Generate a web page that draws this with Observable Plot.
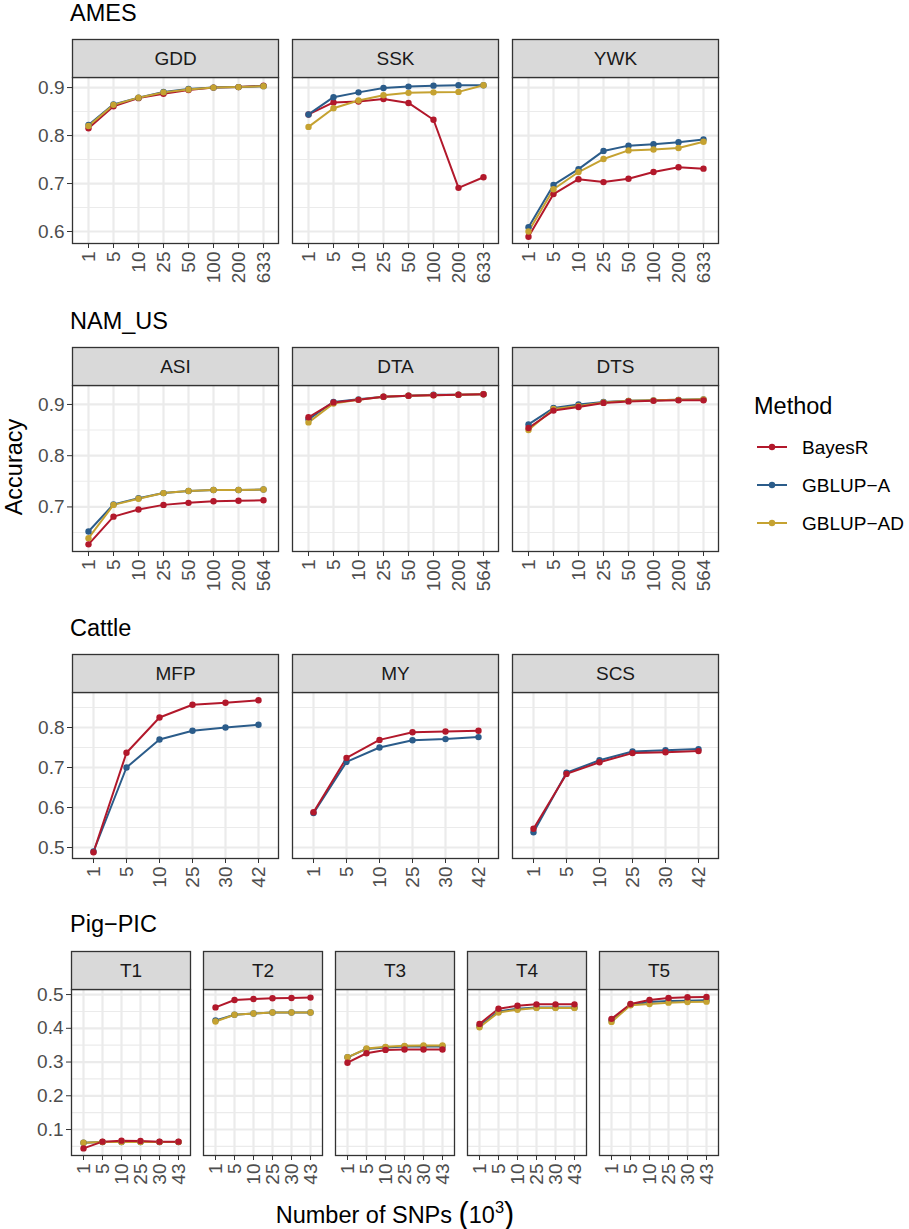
<!DOCTYPE html>
<html>
<head>
<meta charset="utf-8">
<script src="https://cdn.jsdelivr.net/npm/d3@7"></script>
<script src="https://cdn.jsdelivr.net/npm/@observablehq/plot@0.6"></script>
<style>
  body { margin: 0; background: #fff; font-family: "Liberation Sans", Arial, Helvetica, sans-serif; }
  #wrap { position: relative; width: 909px; height: 1229px; overflow: hidden; background: #fff; }
  .abs { position: absolute; white-space: nowrap; line-height: 1; }
  .rowplot { position: absolute; left: 0; }
  .rowplot g[aria-label="x-axis tick label"] text, .rowplot g[aria-label="y-axis tick label"] text,
  .rowplot g[aria-label="x-axis"] text, .rowplot g[aria-label="y-axis"] text { fill: #4D4D4D; }
</style>
</head>
<body>
<div id="wrap"></div>
<script>
// ---------- data ----------
const methods = ["BayesR", "GBLUP-A", "GBLUP-AD"];
const methodColors = ["#B2182B", "#2B5C8A", "#C5A231"];

const amesSNPs   = ["1", "5", "10", "25", "50", "100", "200", "633"];
const namSNPs    = ["1", "5", "10", "25", "50", "100", "200", "564"];
const cattleSNPs = ["1", "5", "10", "25", "30", "42"];
const pigSNPs    = ["1", "5", "10", "25", "30", "43"];

const amesTraits   = ["GDD", "SSK", "YWK"];
const namTraits    = ["ASI", "DTA", "DTS"];
const cattleTraits = ["MFP", "MY", "SCS"];
const pigTraits    = ["T1", "T2", "T3", "T4", "T5"];

// AMES
const GDD_BayesR  = [0.815, 0.861, 0.878, 0.887, 0.895, 0.900, 0.901, 0.904];
const GDD_GBLUPA  = [0.822, 0.865, 0.879, 0.891, 0.897, 0.900, 0.901, 0.903];
const GDD_GBLUPAD = [0.820, 0.864, 0.879, 0.890, 0.896, 0.900, 0.901, 0.903];
const SSK_BayesR  = [0.844, 0.869, 0.871, 0.876, 0.868, 0.833, 0.691, 0.713];
const SSK_GBLUPA  = [0.844, 0.880, 0.890, 0.899, 0.902, 0.904, 0.905, 0.905];
const SSK_GBLUPAD = [0.818, 0.857, 0.873, 0.884, 0.889, 0.890, 0.891, 0.905];
const YWK_BayesR  = [0.589, 0.678, 0.709, 0.703, 0.710, 0.724, 0.734, 0.731];
const YWK_GBLUPA  = [0.609, 0.697, 0.730, 0.768, 0.779, 0.782, 0.786, 0.792];
const YWK_GBLUPAD = [0.600, 0.688, 0.724, 0.751, 0.769, 0.771, 0.774, 0.787];
// NAM_US
const ASI_BayesR  = [0.627, 0.681, 0.695, 0.704, 0.708, 0.711, 0.712, 0.713];
const ASI_GBLUPA  = [0.652, 0.705, 0.717, 0.727, 0.731, 0.733, 0.733, 0.734];
const ASI_GBLUPAD = [0.639, 0.704, 0.716, 0.727, 0.731, 0.733, 0.733, 0.734];
const DTA_BayesR  = [0.875, 0.904, 0.909, 0.915, 0.917, 0.918, 0.919, 0.920];
const DTA_GBLUPA  = [0.871, 0.905, 0.910, 0.915, 0.917, 0.919, 0.919, 0.920];
const DTA_GBLUPAD = [0.865, 0.902, 0.909, 0.915, 0.917, 0.918, 0.919, 0.920];
const DTS_BayesR  = [0.854, 0.888, 0.895, 0.903, 0.906, 0.907, 0.908, 0.908];
const DTS_GBLUPA  = [0.861, 0.893, 0.900, 0.905, 0.907, 0.908, 0.909, 0.910];
const DTS_GBLUPAD = [0.850, 0.891, 0.897, 0.904, 0.907, 0.908, 0.909, 0.910];
// Cattle
const MFP_BayesR  = [0.488, 0.737, 0.825, 0.857, 0.862, 0.868];
const MFP_GBLUPA  = [0.490, 0.700, 0.770, 0.792, 0.800, 0.807];
const MY_BayesR   = [0.588, 0.724, 0.769, 0.788, 0.790, 0.792];
const MY_GBLUPA   = [0.586, 0.714, 0.750, 0.768, 0.771, 0.776];
const SCS_BayesR  = [0.547, 0.684, 0.713, 0.736, 0.738, 0.741];
const SCS_GBLUPA  = [0.538, 0.687, 0.718, 0.740, 0.743, 0.746];
// Pig-PIC
const T1_BayesR   = [0.044, 0.064, 0.067, 0.066, 0.064, 0.064];
const T1_GBLUPA   = [0.061, 0.063, 0.063, 0.063, 0.063, 0.063];
const T1_GBLUPAD  = [0.061, 0.063, 0.063, 0.063, 0.063, 0.063];
const T2_BayesR   = [0.462, 0.484, 0.487, 0.489, 0.490, 0.491];
const T2_GBLUPA   = [0.423, 0.440, 0.444, 0.447, 0.447, 0.447];
const T2_GBLUPAD  = [0.420, 0.440, 0.444, 0.447, 0.447, 0.447];
const T3_BayesR   = [0.298, 0.326, 0.336, 0.337, 0.337, 0.337];
const T3_GBLUPA   = [0.314, 0.339, 0.343, 0.346, 0.346, 0.346];
const T3_GBLUPAD  = [0.314, 0.340, 0.345, 0.348, 0.349, 0.349];
const T4_BayesR   = [0.413, 0.458, 0.467, 0.471, 0.471, 0.471];
const T4_GBLUPA   = [0.407, 0.450, 0.458, 0.462, 0.462, 0.462];
const T4_GBLUPAD  = [0.403, 0.447, 0.455, 0.460, 0.460, 0.460];
const T5_BayesR   = [0.428, 0.472, 0.484, 0.490, 0.492, 0.493];
const T5_GBLUPA   = [0.423, 0.470, 0.478, 0.481, 0.482, 0.483];
const T5_GBLUPAD  = [0.419, 0.468, 0.472, 0.476, 0.478, 0.479];

const amesYTicks   = [0.6, 0.7, 0.8, 0.9];
const namYTicks    = [0.7, 0.8, 0.9];
const cattleYTicks = [0.5, 0.6, 0.7, 0.8];
const pigYTicks    = [0.1, 0.2, 0.3, 0.4, 0.5];

// ---------- build ----------
const wrap = document.getElementById("wrap");
const STRIP = 38, PANEL = 166;

function buildRow(cfg) {
  const rows = [];
  for (const panel of cfg.panels) {
    for (const m of cfg.order) {
      const vals = cfg.values[panel][m];
      if (!vals) continue;
      vals.forEach((v, i) => rows.push({panel, snp: cfg.snps[i], method: m, acc: v}));
    }
  }
  const [y0, y1] = cfg.yDomain;
  const step = cfg.yTicks[1] - cfg.yTicks[0];
  const minor = [];
  for (let t = cfg.yTicks[0] - step / 2; t < y1; t += step) if (t > y0) minor.push(+t.toFixed(3));
  const H = STRIP + PANEL + cfg.mb;
  const plot = Plot.plot({
    width: 730,
    height: H,
    marginTop: STRIP,
    marginBottom: cfg.mb,
    marginLeft: 71,
    marginRight: cfg.mr,
    style: {fontFamily: '"Liberation Sans", Arial, Helvetica, sans-serif', fontSize: "19px", color: "#333333", background: "white", overflow: "visible"},
    fx: {domain: cfg.panels, paddingInner: cfg.fxPad, paddingOuter: 0, axis: null, label: null},
    x: {type: "point", domain: cfg.snps, padding: 0.6, tickRotate: -90, tickSize: 5, tickPadding: 3, label: null},
    y: {domain: cfg.yDomain, ticks: cfg.yTicks, tickSize: 5, tickPadding: 3, label: null, tickFormat: d => d.toFixed(1)},
    color: {domain: methods, range: methodColors},
    marks: [
      Plot.ruleY(minor, {stroke: "#EBEBEB", strokeWidth: 1.1}),
      Plot.ruleY(cfg.yTicks, {stroke: "#EBEBEB", strokeWidth: 2.2}),
      Plot.ruleX(cfg.snps, {stroke: "#EBEBEB", strokeWidth: 2.2}),
      Plot.line(rows, {fx: "panel", x: "snp", y: "acc", z: "method", stroke: "method", strokeWidth: 2}),
      Plot.dot(rows, {fx: "panel", x: "snp", y: "acc", fill: "method", r: 3.2}),
      Plot.frame({stroke: "#333333", strokeWidth: 1.3}),
      Plot.frame({fill: "#D9D9D9", stroke: "#333333", strokeWidth: 1.3, insetTop: -STRIP, insetBottom: PANEL}),
      Plot.text(cfg.panels, {fx: d => d, text: d => d, frameAnchor: "top", lineAnchor: "middle", dy: -STRIP / 2, fontSize: 19, fill: "#1A1A1A"})
    ]
  });
  plot.classList.add("rowplot");
  plot.style.top = cfg.top + "px";
  wrap.appendChild(plot);

  const title = document.createElement("div");
  title.className = "abs";
  title.textContent = cfg.title;
  title.style.cssText += `left:70px; top:${cfg.titleBaseline - 0.8465 * 23.5}px; font-size:23.5px; line-height:23.5px; color:#000;`;
  wrap.appendChild(title);
}

const order1 = ["BayesR", "GBLUP-A", "GBLUP-AD"];
const order2 = ["GBLUP-A", "GBLUP-AD", "BayesR"];

buildRow({
  title: "AMES", titleBaseline: 22, top: 39, mb: 50, mr: 10, fxPad: 0.0633,
  panels: amesTraits, snps: amesSNPs, order: order1,
  yDomain: [0.575, 0.921], yTicks: amesYTicks,
  values: {
    GDD: {"BayesR": GDD_BayesR, "GBLUP-A": GDD_GBLUPA, "GBLUP-AD": GDD_GBLUPAD},
    SSK: {"BayesR": SSK_BayesR, "GBLUP-A": SSK_GBLUPA, "GBLUP-AD": SSK_GBLUPAD},
    YWK: {"BayesR": YWK_BayesR, "GBLUP-A": YWK_GBLUPA, "GBLUP-AD": YWK_GBLUPAD}
  }
});
buildRow({
  title: "NAM_US", titleBaseline: 330, top: 347, mb: 50, mr: 10, fxPad: 0.0633,
  panels: namTraits, snps: namSNPs, order: order2,
  yDomain: [0.613, 0.937], yTicks: namYTicks,
  values: {
    ASI: {"BayesR": ASI_BayesR, "GBLUP-A": ASI_GBLUPA, "GBLUP-AD": ASI_GBLUPAD},
    DTA: {"BayesR": DTA_BayesR, "GBLUP-A": DTA_GBLUPA, "GBLUP-AD": DTA_GBLUPAD},
    DTS: {"BayesR": DTS_BayesR, "GBLUP-A": DTS_GBLUPA, "GBLUP-AD": DTS_GBLUPAD}
  }
});
buildRow({
  title: "Cattle", titleBaseline: 637, top: 654, mb: 45, mr: 10, fxPad: 0.0633,
  panels: cattleTraits, snps: cattleSNPs, order: order2,
  yDomain: [0.4725, 0.8875], yTicks: cattleYTicks,
  values: {
    MFP: {"BayesR": MFP_BayesR, "GBLUP-A": MFP_GBLUPA},
    MY:  {"BayesR": MY_BayesR,  "GBLUP-A": MY_GBLUPA},
    SCS: {"BayesR": SCS_BayesR, "GBLUP-A": SCS_GBLUPA}
  }
});
buildRow({
  title: "Pig\u2212PIC", titleBaseline: 933, top: 951, mb: 45, mr: 12, fxPad: 0.0985,
  panels: pigTraits, snps: pigSNPs, order: order2,
  yDomain: [0.023, 0.515], yTicks: pigYTicks,
  values: {
    T1: {"BayesR": T1_BayesR, "GBLUP-A": T1_GBLUPA, "GBLUP-AD": T1_GBLUPAD},
    T2: {"BayesR": T2_BayesR, "GBLUP-A": T2_GBLUPA, "GBLUP-AD": T2_GBLUPAD},
    T3: {"BayesR": T3_BayesR, "GBLUP-A": T3_GBLUPA, "GBLUP-AD": T3_GBLUPAD},
    T4: {"BayesR": T4_BayesR, "GBLUP-A": T4_GBLUPA, "GBLUP-AD": T4_GBLUPAD},
    T5: {"BayesR": T5_BayesR, "GBLUP-A": T5_GBLUPA, "GBLUP-AD": T5_GBLUPAD}
  }
});

// y axis title
const ylab = document.createElement("div");
ylab.className = "abs";
ylab.textContent = "Accuracy";
ylab.style.cssText += "left:15px; top:467px; font-size:23.5px; color:#000; transform:translate(-50%,-50%) rotate(-90deg);";
wrap.appendChild(ylab);

// x axis title
const xlab = document.createElement("div");
xlab.className = "abs";
xlab.style.cssText += `left:0px; width:790px; text-align:center; top:${1221 - 0.8465 * 23.5}px; font-size:23.5px; line-height:23.5px; color:#000;`;
xlab.innerHTML = 'Number of SNPs <span style="font-size:1.3em;position:relative;top:0.03em">(</span>10<span style="font-size:0.7em;position:relative;top:-0.6em">3</span><span style="font-size:1.3em;position:relative;top:0.03em">)</span>';
wrap.appendChild(xlab);

// legend
const legTitle = document.createElement("div");
legTitle.className = "abs";
legTitle.textContent = "Method";
legTitle.style.cssText += `left:754px; top:${415 - 0.8465 * 23.5}px; font-size:23.5px; line-height:23.5px; color:#000;`;
wrap.appendChild(legTitle);
const keyY = [447, 485, 523];
methods.forEach((m, i) => {
  const sw = document.createElementNS("http://www.w3.org/2000/svg", "svg");
  sw.setAttribute("width", 32); sw.setAttribute("height", 12);
  sw.style.cssText = `position:absolute; left:756px; top:${keyY[i] - 6}px;`;
  sw.innerHTML = `<line x1="1" y1="6" x2="31" y2="6" stroke="${methodColors[i]}" stroke-width="2"/><circle cx="16" cy="6" r="3.2" fill="${methodColors[i]}"/>`;
  wrap.appendChild(sw);
  const lab = document.createElement("div");
  lab.className = "abs";
  lab.textContent = m.replace("-", "\u2212");
  lab.style.cssText += `left:802px; top:${keyY[i] - 9.5}px; font-size:19px; line-height:19px; color:#000;`;
  wrap.appendChild(lab);
});
</script>
</body>
</html>
